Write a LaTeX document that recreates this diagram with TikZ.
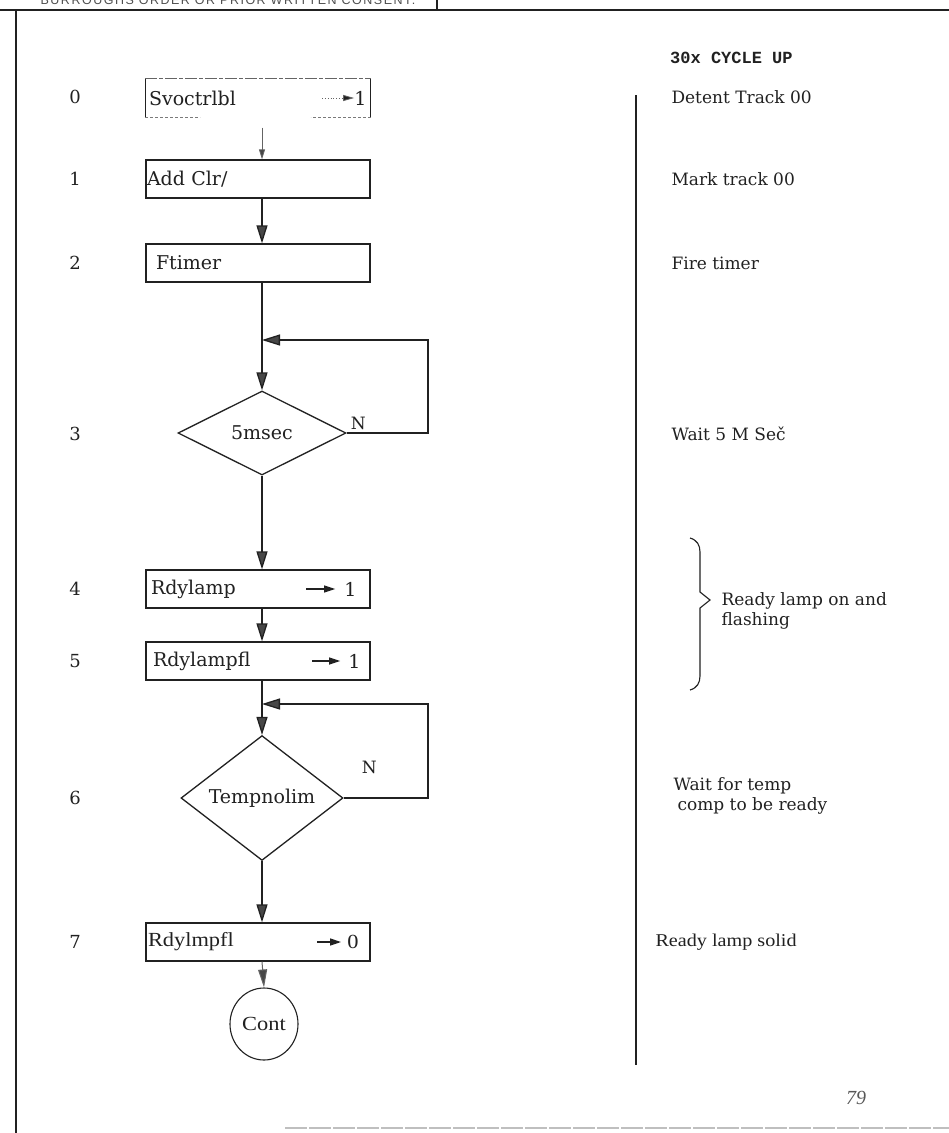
\documentclass[tikz,border=0pt]{standalone}
\usepackage{fontspec}
\setmainfont{DejaVu Serif}
\newfontfamily\timesw[FakeStretch=1.12]{Liberation Serif}
\newfontfamily\timesf{Liberation Serif}
\newfontfamily\monof{Liberation Mono}
\newfontfamily\hdrf[LetterSpace=12]{Liberation Sans}
\usetikzlibrary{arrows.meta,shapes.geometric,calc}
\definecolor{ink}{gray}{0.13}
\definecolor{headc}{gray}{0.28}
\begin{document}
\begin{tikzpicture}[x=1pt,y=-1pt,
  every node/.style={text=ink,font=\fontsize{17}{20}\selectfont},
  box/.style={draw=ink,line width=1.3pt,minimum width=224pt,minimum height=38pt,
    inner xsep=0pt,inner ysep=0pt,text width=224pt,align=left,font=\fontsize{19}{22}\selectfont},
  dia/.style={draw=ink,line width=1.3pt,diamond,minimum width=168pt,minimum height=84pt,inner sep=0pt,
    font=\fontsize{19}{22}\selectfont},
  line/.style={draw=ink,line width=1.3pt},
  arr/.style={line,-{Triangle[length=18pt,width=11pt,fill=headc]}},
  thinarr/.style={draw=ink!70,line width=0.8pt,-{Triangle[length=10pt,width=6pt,fill=headc]}},
  minarr/.style={draw=ink,line width=1.3pt,-{Triangle[length=11pt,width=7pt,fill=ink]}},
  num/.style={anchor=center,font=\fontsize{18}{20}\selectfont},
  note/.style={anchor=west,align=left},
  tw/.style={font=\timesw\fontsize{20}{22}\selectfont},
]
\useasboundingbox (0,0) rectangle (949,1133);
\fill[white] (0,0) rectangle (949,1133);

% header strip
\node[anchor=base,inner sep=0pt,font=\hdrf\fontsize{12.5}{14}\selectfont,text=ink!80] (hdr) at (228,4.5) {BURROUGHS ORDER OR PRIOR WRITTEN CONSENT.};
\coordinate (hl) at (0,10);
\coordinate (hr) at (949,10);
\draw[ink,line width=1.8pt] (hl) -- (hr);
\coordinate (hv) at (437,0);
\draw[ink,line width=1.2pt] (hv) -- (hv |- hl);
% left border
\coordinate (lb) at (16,10);
\coordinate (lbb) at (16,1133);
\draw[ink,line width=1.2pt] (lb) -- (lbb);
% bottom faded rule
\coordinate (bl) at (285,1128);
\coordinate (br) at (949,1128);
\draw[black!25,line width=1.6pt,dash pattern=on 22pt off 2pt] (bl) -- (br);

% axis for the vertical flow
\coordinate (ax) at (262,0);

% step numbers
\node[num] (n0) at (75,97) {0};
\node[num] (n1) at (75,179) {1};
\node[num] (n2) at (75,263) {2};
\node[num] (n3) at (75,434) {3};
\node[num] (n4) at (75,589) {4};
\node[num] (n5) at (75,661) {5};
\node[num] (n6) at (75,798) {6};
\node[num] (n7) at (75,942) {7};

% box 0 (partly printed frame)
\node[box,draw=none] (b0) at (258,98) {\hspace*{3pt}Svoctrlbl};
\draw[ink,line width=1.5pt] (b0.north west) -- (b0.south west) (b0.north east) -- (b0.south east);
\draw[ink!70,line width=1pt,dash pattern=on 12pt off 2pt on 4pt off 2pt] (b0.north west) -- (b0.north east);
\draw[ink!60,line width=0.8pt,densely dashed] (b0.south west) -- ++(55,0);
\draw[ink!60,line width=0.8pt,densely dashed] (b0.south east) -- ++(-60,0);
\node[anchor=east,inner sep=0pt,font=\fontsize{19}{22}\selectfont] (v0) at ($(b0.east)+(-4,0)$) {1};
\coordinate (v0s) at ($(v0.west)+(-32,0)$);
\draw[draw=ink!70,line width=0.8pt,dotted,-{Triangle[length=11pt,width=6pt,fill=ink]}] (v0s) -- (v0.west);

\node[box] (b1) at (258,179) {\hspace*{1pt}Add Clr/};
\node[box] (b2) at (258,263) {\hspace*{10pt}Ftimer};
\node[dia] (d3) at (ax |- 0,433) {5msec\hspace{26pt}};
\node[box] (b4) at (258,589) {\hspace*{5pt}Rdylamp};
\node[anchor=east,inner sep=0pt,font=\fontsize{19}{22}\selectfont] (v4) at ($(b4.east)+(-14,0)$) {1};
\coordinate (v4s) at ($(v4.west)+(-38,0)$);
\draw[minarr] (v4s) -- ($(v4.west)+(-9,0)$);
\node[box] (b5) at (258,661) {\hspace*{7pt}Rdylampfl};
\node[anchor=east,inner sep=0pt,font=\fontsize{19}{22}\selectfont] (v5) at ($(b5.east)+(-10,0)$) {1};
\coordinate (v5s) at ($(v5.west)+(-36,0)$);
\draw[minarr] (v5s) -- ($(v5.west)+(-8,0)$);
\node[dia,minimum height=82pt,minimum width=162pt] (d6) at (ax |- 0,798) {Tempnolim};
\node[box,tw] (b7) at (258,942) {\hspace*{2pt}Rdylmpfl};
\node[anchor=east,inner sep=0pt,tw] (v7) at ($(b7.east)+(-12,0)$) {0};
\coordinate (v7s) at ($(v7.west)+(-30,0)$);
\draw[minarr] (v7s) -- ($(v7.west)+(-6,0)$);
\node[draw=ink,line width=1.1pt,ellipse,minimum width=68pt,minimum height=72pt,inner sep=0pt,tw] (c) at (264,1024) {Cont};

% main flow
\coordinate (s0) at ($(b0.south -| ax)+(0,10)$);
\draw[thinarr] (s0) -- (b1.north -| ax);
\draw[arr] (b1.south -| ax) -- (b2.north -| ax);
\draw[arr] (b2.south -| ax) -- (d3.north);
\draw[arr] (d3.south) -- (b4.north -| ax);
\draw[arr] (b4.south -| ax) -- (b5.north -| ax);
\draw[arr] (b5.south -| ax) -- (d6.north);
\draw[arr] (d6.south) -- (b7.north -| ax);
\draw[draw=ink!70,line width=1pt,-{Triangle[length=18pt,width=9pt,fill=headc]}] (b7.south -| ax) -- (c.north);

% wait loops
\coordinate (l3) at (428,340);
\draw[arr] (d3.east) -| (l3) -- (l3 -| ax);
\node[anchor=south west,inner sep=0pt] (N3) at ($(d3.east)+(4,-3)$) {N};
\coordinate (l6) at (428,704);
\draw[arr] (d6.east) -| (l6) -- (l6 -| ax);
\node[anchor=south west,inner sep=0pt] (N6) at ($(d6.east)+(18,-24)$) {N};

% right column
\coordinate (rt) at (636,95);
\coordinate (rb) at (636,1065);
\draw[ink,line width=1.2pt] (rt) -- (rb);
\node[note] (r0) at (668,97) {Detent Track 00};
\node[anchor=base west,inner sep=0pt,font=\monof\bfseries\fontsize{17}{20}\selectfont] (title) at ($(r0.west)+(2,-34)$) {30x CYCLE UP};
\node[note] (r1) at (668,179) {Mark track 00};
\node[note] (r2) at (668,263) {Fire timer};
\node[note] (r3) at (668,434) {Wait 5 M Seč};
\coordinate (brt) at (690,538);
\coordinate (brb) at (690,690);
\draw[ink,line width=1.1pt] (brt) .. controls (697,540) and (700,545) .. (700,552)
  -- (700,592) -- (710,600) -- (700,608) -- (700,676)
  .. controls (700,683) and (697,688) .. (brb);
\node[note] (r45) at (718,611) {Ready lamp on and\\flashing};
\node[note] (r6) at (670,796) {Wait for temp\\\hspace*{4pt}comp to be ready};
\node[note,font=\timesw\fontsize{18}{22}\selectfont] (r7) at (652,942) {Ready lamp solid};
\node[font=\timesf\itshape\fontsize{20}{22}\selectfont,text=ink!75] (pg) at (856,1098) {79};
\end{tikzpicture}
\end{document}
